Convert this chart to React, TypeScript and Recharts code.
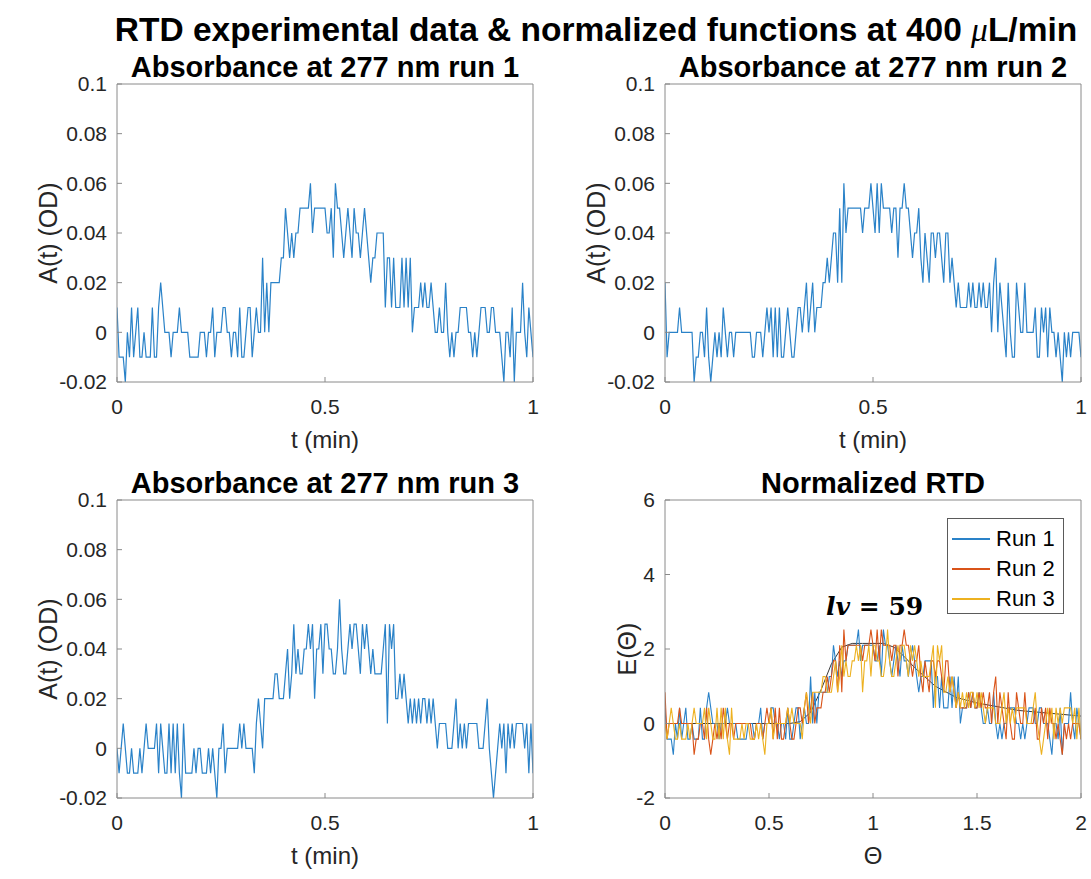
import React from 'react';
import { LineChart, Line, XAxis, YAxis } from 'recharts';

// Absorbance readings at 277 nm, in units of 0.01 OD, one sample every 0.005 min
const RUN1 = [
  1, -1, -1, -1, -2, 0, -1, 1, -1, 0,
  1, -1, -1, 0, -1, -1, -1, 1, -1, -1,
  1, 2, 1, 0, 0, 0, -1, 0, 0, 0,
  1, 0, 0, 0, 0, -1, -1, -1, -1, -1,
  0, 0, 0, -1, 0, 0, 1, -1, 0, 0,
  0, 1, 1, 0, 0, -1, 0, 0, -1, 1,
  -1, -1, 0, 1, 1, -1, 0, 1, 0, 0,
  3, 0, 2, 0, 2, 2, 2, 2, 2, 3,
  3, 5, 4, 3, 4, 3, 4, 4, 5, 5,
  5, 5, 5, 6, 4, 5, 5, 5, 5, 5,
  5, 4, 4, 5, 3, 6, 5, 5, 4, 3,
  4, 5, 4, 3, 5, 4, 4, 3, 4, 5,
  4, 3, 2, 3, 3, 4, 4, 4, 4, 1,
  3, 3, 1, 3, 1, 1, 1, 3, 1, 3,
  1, 3, 0, 1, 1, 1, 2, 1, 2, 1,
  1, 2, 1, 0, 0, 1, 0, 0, 2, 0,
  -1, 0, -1, 0, 0, 1, 1, 1, 1, 0,
  0, -1, 0, -1, 0, 1, 1, 1, 0, 0,
  1, 1, 0, 0, 0, -1, -2, 0, 0, -1,
  1, -2, 0, 0, 0, 2, 0, -1, 1, 0, -1,
];

const RUN2 = [
  2, -1, 0, 0, 0, 0, 0, 1, 0, 0,
  0, 0, 0, 0, -2, -1, -1, 0, 0, -1,
  1, -1, -2, -1, 0, -1, 0, -1, 1, 0,
  -1, 0, 0, -1, 0, 0, 0, 0, 0, 0,
  0, 0, -1, -1, 0, 0, 0, -1, 0, 1,
  0, 1, -1, 1, -1, 1, -1, -1, 0, 1,
  0, -1, -1, 0, 1, 1, 0, 1, 2, 0,
  1, 2, 0, 1, 1, 1, 2, 2, 3, 2,
  3, 4, 4, 2, 5, 2, 6, 4, 5, 5,
  5, 5, 5, 5, 5, 4, 5, 5, 5, 6,
  5, 4, 6, 4, 6, 5, 5, 5, 5, 4,
  5, 5, 3, 5, 5, 6, 5, 5, 4, 3,
  4, 4, 5, 3, 2, 4, 3, 2, 4, 4,
  3, 4, 4, 3, 2, 4, 4, 2, 3, 2,
  1, 2, 1, 1, 1, 1, 2, 1, 2, 1,
  1, 2, 1, 2, 1, 1, 2, 0, 2, 3,
  0, 2, 1, 0, -1, 2, 0, -1, -1, 2,
  1, 0, 0, 2, 0, 0, 0, 0, 1, -1,
  -1, 1, 0, 1, -1, 1, 0, 0, -1, 0,
  -1, -2, 0, -1, 0, -1, 0, 0, 0, 0, -1,
];

const RUN3 = [
  0, -1, 0, 1, 0, -1, -1, 0, -1, -1,
  -1, 0, -1, 0, 1, 0, 0, 0, 0, 1,
  -1, 1, 0, -1, -1, 1, -1, 1, -1, 1,
  -1, -2, 1, -1, -1, -1, -1, 0, -1, 0,
  0, -1, -1, -1, 0, -1, 0, -1, -2, 0,
  0, 1, -1, 0, 0, 0, 0, 0, 0, 1,
  0, 1, 0, 0, 0, 0, -1, 1, 2, 1,
  0, 2, 2, 2, 2, 2, 3, 3, 2, 2,
  2, 3, 4, 2, 3, 5, 3, 4, 3, 3,
  4, 4, 5, 4, 5, 2, 4, 4, 5, 3,
  5, 5, 4, 4, 3, 3, 4, 6, 4, 3,
  3, 4, 5, 4, 5, 5, 4, 3, 5, 4,
  5, 4, 3, 4, 3, 3, 3, 3, 4, 5,
  1, 5, 4, 5, 2, 2, 3, 2, 3, 2,
  1, 2, 1, 2, 1, 2, 1, 2, 2, 1,
  2, 1, 2, 1, 0, 1, 1, 1, 1, 0,
  0, 0, 1, 2, 0, 1, 0, 1, 0, 1,
  1, 1, 1, 1, 0, 0, 0, 1, 2, 0,
  -1, -2, -1, 0, 1, 0, 1, -1, 1, 0,
  1, 0, 1, 1, 1, 1, 0, 1, -1, 1, -1,
];

// lv = 59 model curve
const MODEL_THETA = [0, 0.5, 0.6, 0.65, 0.7, 0.75, 0.8, 0.85, 0.9, 0.95, 1.0, 1.05, 1.1, 1.15, 1.2, 1.25, 1.3, 1.35, 1.4, 1.5, 1.6, 1.7, 1.8, 1.9, 2.0];
const MODEL_E = [0, 0, 0, 0.05, 0.3, 0.9, 1.6, 2.05, 2.15, 2.15, 2.15, 2.15, 2.05, 1.8, 1.5, 1.25, 1.0, 0.85, 0.7, 0.55, 0.45, 0.35, 0.3, 0.25, 0.2];

const T_STEP = 0.005; // min
const TAU = 0.5; // mean residence time, min
// E per OD unit for each run
const NORM_FACTOR = [42, 42, 42];

const A_TICKS = [-0.02, 0, 0.02, 0.04, 0.06, 0.08, 0.1];
const T_TICKS = [0, 0.5, 1];
const E_TICKS = [-2, 0, 2, 4, 6];
const THETA_TICKS = [0, 0.5, 1, 1.5, 2];

const RUN_NAMES = ['Run 1', 'Run 2', 'Run 3'];
const COLORS = ['#2a82c8', '#D95319', '#EDB120'];

const FONT = '"Liberation Sans", Arial, Helvetica, sans-serif';
const AXIS_GREY = '#8a8a8a';
const TEXT_DARK = '#262626';

// geometry of each subplot
const PLOT_W = 416;
const PLOT_H = 298;
const AX_L = 80;
const AX_B = 70;
const PAD_T = 20;

const rawData = (run: number[]) => run.map((v, i) => ({ t: i * T_STEP, a: v / 100 }));

const normData = RUN1.map((_, i) => ({
  theta: (i * T_STEP) / TAU,
  e1: (RUN1[i] / 100) * NORM_FACTOR[0],
  e2: (RUN2[i] / 100) * NORM_FACTOR[1],
  e3: (RUN3[i] / 100) * NORM_FACTOR[2],
}));
const modelData = MODEL_THETA.map((th, i) => ({ theta: th, e: MODEL_E[i] }));

const tickStyle = { fill: TEXT_DARK, fontSize: 21, fontFamily: FONT };
const fmt = (v: number) => String(v);

interface PanelProps {
  left: number;
  top: number;
  data: any[];
  xKey: string;
  xDomain: number[];
  xTicks: number[];
  yDomain: number[];
  yTicks: number[];
  children: React.ReactNode;
}

const Panel: React.FC<PanelProps> = ({ left, top, data, xKey, xDomain, xTicks, yDomain, yTicks, children }) => (
  <div style={{ position: 'absolute', left: left - AX_L, top: top - PAD_T }}>
    <LineChart
      width={AX_L + PLOT_W + 14}
      height={PAD_T + PLOT_H + AX_B}
      data={data}
      margin={{ top: PAD_T - 1, right: 13, bottom: 0, left: 0 }}
    >
      <XAxis
        dataKey={xKey}
        type="number"
        domain={xDomain}
        ticks={xTicks}
        interval={0}
        allowDataOverflow
        height={AX_B}
        tickFormatter={fmt}
        tick={tickStyle}
        tickSize={-5}
        tickMargin={22}
        stroke={AXIS_GREY}
      />
      <XAxis
        xAxisId="top"
        orientation="top"
        dataKey={xKey}
        type="number"
        domain={xDomain}
        ticks={xTicks}
        interval={0}
        allowDataOverflow
        height={1}
        tick={false}
        tickSize={-5}
        stroke={AXIS_GREY}
      />
      <YAxis
        type="number"
        domain={yDomain}
        ticks={yTicks}
        interval={0}
        allowDataOverflow
        width={AX_L}
        tickFormatter={fmt}
        tick={tickStyle}
        tickSize={-5}
        tickMargin={15}
        stroke={AXIS_GREY}
      />
      <YAxis
        yAxisId="right"
        orientation="right"
        type="number"
        domain={yDomain}
        ticks={yTicks}
        interval={0}
        allowDataOverflow
        width={1}
        tick={false}
        tickSize={-5}
        stroke={AXIS_GREY}
      />
      {children}
    </LineChart>
  </div>
);

const Txt: React.FC<{ x: number; y: number; size: number; bold?: boolean; rotate?: boolean; children: React.ReactNode }> = ({
  x,
  y,
  size,
  bold,
  rotate,
  children,
}) => (
  <div
    style={{
      position: 'absolute',
      left: x,
      top: y,
      transform: `translate(-50%, -50%)${rotate ? ' rotate(-90deg)' : ''}`,
      fontFamily: FONT,
      fontSize: size,
      fontWeight: bold ? 'bold' : 'normal',
      color: bold ? '#000' : TEXT_DARK,
      whiteSpace: 'nowrap',
      lineHeight: 1,
    }}
  >
    {children}
  </div>
);

const BOXES = [
  { x: 117, y: 84 },
  { x: 665, y: 84 },
  { x: 117, y: 500 },
  { x: 665, y: 500 },
];

export default function App() {
  const runs = [RUN1, RUN2, RUN3];
  return (
    <div style={{ position: 'absolute', left: 0, top: 0, width: 1091, height: 879, background: '#fff', overflow: 'hidden' }}>
      <Txt x={596} y={30} size={33.5} bold>
        RTD experimental data &amp; normalized functions at 400 <span style={{ fontFamily: '"Liberation Serif", serif', fontStyle: 'italic', fontWeight: 'normal' }}>μ</span>L/min
      </Txt>

      {runs.map((run, k) => (
        <React.Fragment key={k}>
          <Panel
            left={BOXES[k].x}
            top={BOXES[k].y}
            data={rawData(run)}
            xKey="t"
            xDomain={[0, 1]}
            xTicks={T_TICKS}
            yDomain={[-0.02, 0.1]}
            yTicks={A_TICKS}
          >
            <Line type="linear" dataKey="a" stroke={COLORS[0]} strokeWidth={1.2} dot={false} isAnimationActive={false} />
          </Panel>
          <Txt x={BOXES[k].x + PLOT_W / 2} y={BOXES[k].y - 17} size={29} bold>
            Absorbance at 277 nm run {k + 1}
          </Txt>
          <Txt x={BOXES[k].x - 69} y={BOXES[k].y + PLOT_H / 2} size={25} rotate>
            A(t) (OD)
          </Txt>
          <Txt x={BOXES[k].x + PLOT_W / 2} y={BOXES[k].y + PLOT_H + 58} size={24}>
            t (min)
          </Txt>
        </React.Fragment>
      ))}

      <Panel
        left={BOXES[3].x}
        top={BOXES[3].y}
        data={normData}
        xKey="theta"
        xDomain={[0, 2]}
        xTicks={THETA_TICKS}
        yDomain={[-2, 6]}
        yTicks={E_TICKS}
      >
        <Line type="linear" data={modelData} dataKey="e" stroke="#3a3a3a" strokeWidth={1} dot={false} isAnimationActive={false} />
        <Line type="linear" dataKey="e1" name="Run 1" stroke={COLORS[0]} strokeWidth={1.1} dot={false} isAnimationActive={false} />
        <Line type="linear" dataKey="e2" name="Run 2" stroke={COLORS[1]} strokeWidth={1.1} dot={false} isAnimationActive={false} />
        <Line type="linear" dataKey="e3" name="Run 3" stroke={COLORS[2]} strokeWidth={1.1} dot={false} isAnimationActive={false} />
      </Panel>
      <Txt x={BOXES[3].x + PLOT_W / 2} y={BOXES[3].y - 17} size={29} bold>
        Normalized RTD
      </Txt>
      <Txt x={BOXES[3].x - 38} y={BOXES[3].y + PLOT_H / 2} size={25} rotate>
        E(Θ)
      </Txt>
      <Txt x={BOXES[3].x + PLOT_W / 2} y={BOXES[3].y + PLOT_H + 58} size={24}>
        Θ
      </Txt>

      <div
        style={{
          position: 'absolute',
          left: 826,
          top: 594,
          fontFamily: '"DejaVu Serif", "Liberation Serif", serif',
          fontSize: 25,
          fontWeight: 'bold',
          lineHeight: 1,
          color: '#000',
          whiteSpace: 'nowrap',
        }}
      >
        <i>lv</i> = 59
      </div>

      <div
        style={{
          position: 'absolute',
          left: 947,
          top: 518,
          width: 117,
          height: 96,
          border: '1px solid #5a5a5a',
          background: '#fff',
          boxSizing: 'border-box',
        }}
      >
        {RUN_NAMES.map((name, k) => (
          <div key={name} style={{ position: 'absolute', left: 4, top: 8 + k * 30, height: 24, display: 'flex', alignItems: 'center' }}>
            <div style={{ width: 38, height: 1.5, background: COLORS[k] }} />
            <span style={{ marginLeft: 6, fontFamily: FONT, fontSize: 22, color: '#000' }}>{name}</span>
          </div>
        ))}
      </div>
    </div>
  );
}
